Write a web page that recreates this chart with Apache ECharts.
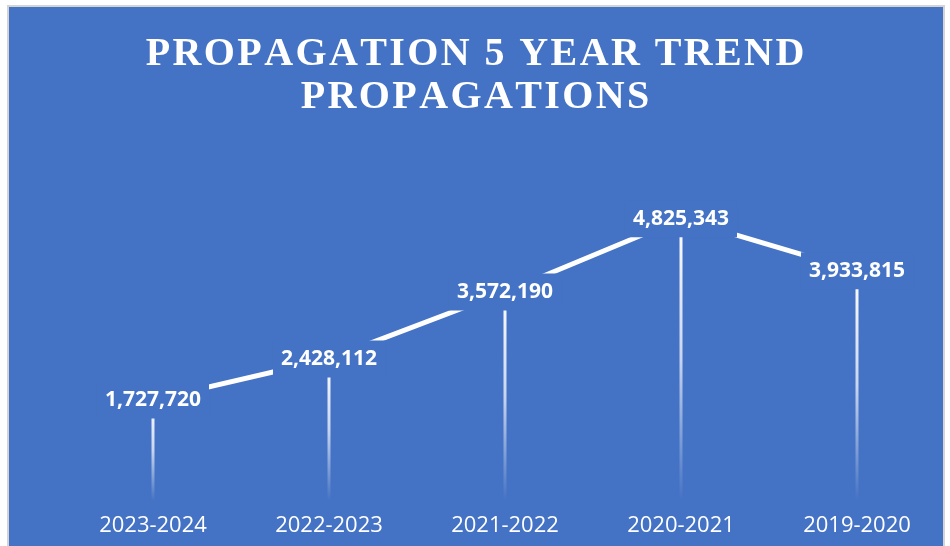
<!DOCTYPE html>
<html>
<head>
<meta charset="utf-8">
<script src="https://cdn.jsdelivr.net/npm/echarts@6/dist/echarts.min.js"></script>
<style>
html,body{margin:0;padding:0;background:#ffffff;}
#main{width:950px;height:546px;}
</style>
</head>
<body>
<div id="main"></div>
<script>
var titleLines = ['PROPAGATION 5 YEAR TREND', 'PROPAGATIONS'];
var categories = ['2023-2024', '2022-2023', '2021-2022', '2020-2021', '2019-2020'];
var propagations = [1727720, 2428112, 3572190, 4825343, 3933815];

var BLUE = '#4472C4';
function spaced(line) {
  return line.split('').map(function (ch) { return '{c|' + ch + '}'; }).join('');
}
var chart = echarts.init(document.getElementById('main'), null, {renderer: 'canvas'});
chart.setOption({
  backgroundColor: '#ffffff',
  animation: false,
  graphic: [{
    type: 'rect',
    z: -10,
    shape: {x: 8, y: 6, width: 936, height: 545},
    style: {fill: BLUE, stroke: '#d4d4d4', lineWidth: 2}
  }],
  title: {
    text: titleLines.map(spaced).join('\n'),
    left: 'center',
    top: 28,
    textStyle: {
      color: '#ffffff',
      fontFamily: '"Liberation Serif", "Times New Roman", serif',
      fontWeight: 'bold',
      fontSize: 40,
      lineHeight: 43,
      rich: {
        c: {
          color: '#ffffff',
          fontFamily: '"Liberation Serif", "Times New Roman", serif',
          fontWeight: 'bold',
          fontSize: 40,
          lineHeight: 43,
          align: 'center',
          padding: [0, 1.2, 0, 1.2]
        }
      }
    }
  },
  grid: {left: 65, right: 5, top: 150, bottom: 45},
  xAxis: {
    type: 'category',
    data: categories,
    axisLine: {show: false},
    axisTick: {show: false},
    axisLabel: {
      color: '#ffffff',
      fontFamily: '"Open Sans", sans-serif',
      fontSize: 22,
      margin: 14
    }
  },
  yAxis: {
    type: 'value',
    min: 0,
    max: 6000000,
    show: false,
    splitLine: {show: false}
  },
  series: [{
    type: 'bar',
    data: propagations,
    barWidth: 3,
    z: 1,
    silent: true,
    itemStyle: {
      color: new echarts.graphic.LinearGradient(0, 0, 0, 1, [
        {offset: 0, color: 'rgba(255,255,255,1)'},
        {offset: 0.5, color: 'rgba(255,255,255,0.7)'},
        {offset: 1, color: 'rgba(255,255,255,0)'}
      ])
    }
  }, {
    type: 'line',
    data: propagations,
    z: 3,
    symbol: 'circle',
    symbolSize: 1,
    showSymbol: true,
    itemStyle: {color: 'rgba(255,255,255,0)'},
    lineStyle: {color: '#ffffff', width: 5},
    label: {
      show: true,
      position: 'inside',
      formatter: function (p) { return p.value.toLocaleString('en-US'); },
      color: '#ffffff',
      fontFamily: '"Open Sans", sans-serif',
      fontWeight: 'bold',
      fontSize: 21,
      backgroundColor: BLUE,
      padding: [8, 8, 8, 8]
    },
    labelLayout: {hideOverlap: false}
  }]
});
</script>
</body>
</html>
